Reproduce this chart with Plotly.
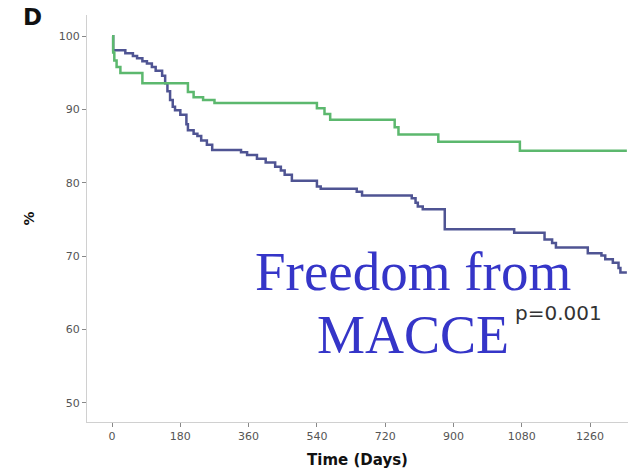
import plotly.graph_objects as go

# Kaplan-Meier step curves: event times (days) and survival (%)
green_days = [0, 3, 6, 12, 22, 80, 200, 215, 240, 270, 540, 560, 575, 745, 755, 860, 1075, 1357]
green_pct = [100, 97.8, 96.7, 95.8, 95.0, 93.6, 92.4, 91.7, 91.3, 90.9, 90.2, 89.4, 88.6, 87.6, 86.6, 85.6, 84.4, 84.4]

navy_days = [0, 3, 35, 55, 66, 80, 92, 105, 115, 132, 140, 146, 153, 160, 166, 180, 196, 200,
             215, 225, 235, 250, 264, 340, 356, 382, 405, 430, 445, 455, 474, 540, 550, 645,
             659, 790, 800, 806, 819, 877, 1060, 1140, 1160, 1170, 1254, 1290, 1300, 1320,
             1335, 1340, 1357]
navy_pct = [100, 98.1, 97.7, 97.3, 97.0, 96.6, 96.3, 95.8, 95.3, 94.6, 93.6, 92.5, 91.3, 90.4, 89.9, 89.3, 88.0, 87.2,
            86.7, 86.4, 85.8, 85.2, 84.5, 84.2, 83.8, 83.3, 82.8, 82.2, 81.7, 81.1, 80.3, 79.5, 79.2, 78.8,
            78.3, 77.9, 77.3, 76.8, 76.4, 73.7, 73.2, 72.3, 71.8, 71.2, 70.4, 70.1, 69.6, 69.1,
            68.4, 67.8, 67.8]

x_ticks = [0, 180, 360, 540, 720, 900, 1080, 1260]
y_ticks = [50, 60, 70, 80, 90, 100]

fig = go.Figure()
fig.add_trace(go.Scatter(x=navy_days, y=navy_pct, mode="lines", line_shape="hv",
                         line=dict(color="#4f5493", width=2.5), showlegend=False))
fig.add_trace(go.Scatter(x=green_days, y=green_pct, mode="lines", line_shape="hv",
                         line=dict(color="#5cb86e", width=2.5), showlegend=False))

axis_common = dict(showgrid=False, zeroline=False, showline=True, linecolor="#d0d0d0", linewidth=1,
                   ticks="outside", tickcolor="#888888", ticklen=4,
                   tickfont=dict(family="DejaVu Sans", size=11, color="#555555"))

fig.update_xaxes(range=[-66, 1360], tickvals=x_ticks, ticktext=[str(v) for v in x_ticks],
                 title=dict(text="<b>Time (Days)</b>",
                            font=dict(family="DejaVu Sans", size=15, color="#111111"),
                            standoff=12),
                 **axis_common)
fig.update_yaxes(range=[47.4, 102.9], tickvals=y_ticks, ticktext=[str(v) for v in y_ticks],
                 title=dict(text="<b>%</b>", font=dict(family="DejaVu Sans", size=14, color="#111111"),
                            standoff=20),
                 **axis_common)

fig.add_annotation(x=793, y=67.9, xref="x", yref="y", text="Freedom from", showarrow=False,
                   xanchor="center", yanchor="middle",
                   font=dict(family="Liberation Serif", size=55, color="#3535c8"))
fig.add_annotation(x=793, y=59.3, xref="x", yref="y", text="MACCE", showarrow=False,
                   xanchor="center", yanchor="middle",
                   font=dict(family="Liberation Serif", size=54, color="#3535c8"))
fig.add_annotation(x=1178, y=62.2, xref="x", yref="y", text="p=0.001", showarrow=False,
                   xanchor="center", yanchor="middle",
                   font=dict(family="DejaVu Sans", size=20, color="#333333"))
fig.add_annotation(x=-0.1, y=0.995, xref="paper", yref="paper", text="<b>D</b>", showarrow=False,
                   xanchor="center", yanchor="middle",
                   font=dict(family="DejaVu Sans", size=23, color="#111111"))

fig.update_layout(width=630, height=469, margin=dict(l=87, r=2, t=15, b=47),
                  paper_bgcolor="white", plot_bgcolor="white")

fig.write_html("out.html")
